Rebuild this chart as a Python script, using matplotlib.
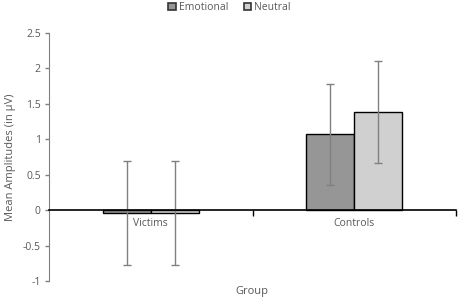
import numpy as np
from matplotlib import pyplot as plt
from matplotlib.patches import Patch
from matplotlib.ticker import FuncFormatter

groups = ["Victims", "Controls"]
emotional = [-0.04, 1.07]
neutral = [-0.04, 1.38]
emotional_err = [0.74, 0.71]
neutral_err = [0.74, 0.72]

plt.rcParams["font.family"] = ["Open Sans", "DejaVu Sans"]
txt = "#595959"

fig = plt.figure(figsize=(4.59, 3.01), dpi=100)
ax = fig.add_axes([0.1068, 0.0664, 0.8867, 0.824])

x = np.arange(len(groups))
w = 0.236
ebar = dict(ecolor="#808080", elinewidth=1, capsize=3, capthick=1)
ax.bar(x - w / 2, emotional, w, color="#969696", edgecolor="black", linewidth=1,
       yerr=emotional_err, error_kw=ebar, label="Emotional")
ax.bar(x + w / 2, neutral, w, color="#d0d0d0", edgecolor="black", linewidth=1,
       yerr=neutral_err, error_kw=ebar, label="Neutral")

ax.set_xlim(-0.5, 1.5)
ax.set_ylim(-1, 2.5)
ax.set_yticks(np.arange(-1, 2.51, 0.5))
ax.yaxis.set_major_formatter(FuncFormatter(lambda v, p: "%g" % v))
ax.tick_params(axis="y", labelsize=7.5, colors=txt, length=3, width=1, pad=3)
ax.tick_params(axis="y", color="#808080")

ax.spines["top"].set_visible(False)
ax.spines["right"].set_visible(False)
ax.spines["left"].set_color("#808080")
ax.spines["bottom"].set_position(("data", 0))
ax.spines["bottom"].set_color("black")
ax.spines["bottom"].set_linewidth(1.2)

ax.set_xticks(x)
ax.set_xticklabels(groups)
ax.tick_params(axis="x", length=0, labelsize=7.5, colors=txt, pad=6)
ax.set_xticks([0.5, 1.5], minor=True)
ax.tick_params(axis="x", which="minor", length=4, width=1, color="black")

ax.set_ylabel("Mean Amplitudes (in µV)", fontsize=8, color=txt, labelpad=5)
fig.text(0.549, 0.03, "Group", fontsize=8, color=txt, ha="center", va="center")

handles = [Patch(facecolor="#969696", edgecolor="#333333", linewidth=1.2),
           Patch(facecolor="#d0d0d0", edgecolor="#333333", linewidth=1.2)]
leg = fig.legend(handles, ["Emotional", "Neutral"], loc="center", bbox_to_anchor=(0.5, 0.975),
                 ncol=2, frameon=False, fontsize=7.5, handlelength=0.7, handleheight=0.7,
                 handletextpad=0.3, columnspacing=1.5)
for t in leg.get_texts():
    t.set_color(txt)

fig.savefig("out.png", dpi=100)
